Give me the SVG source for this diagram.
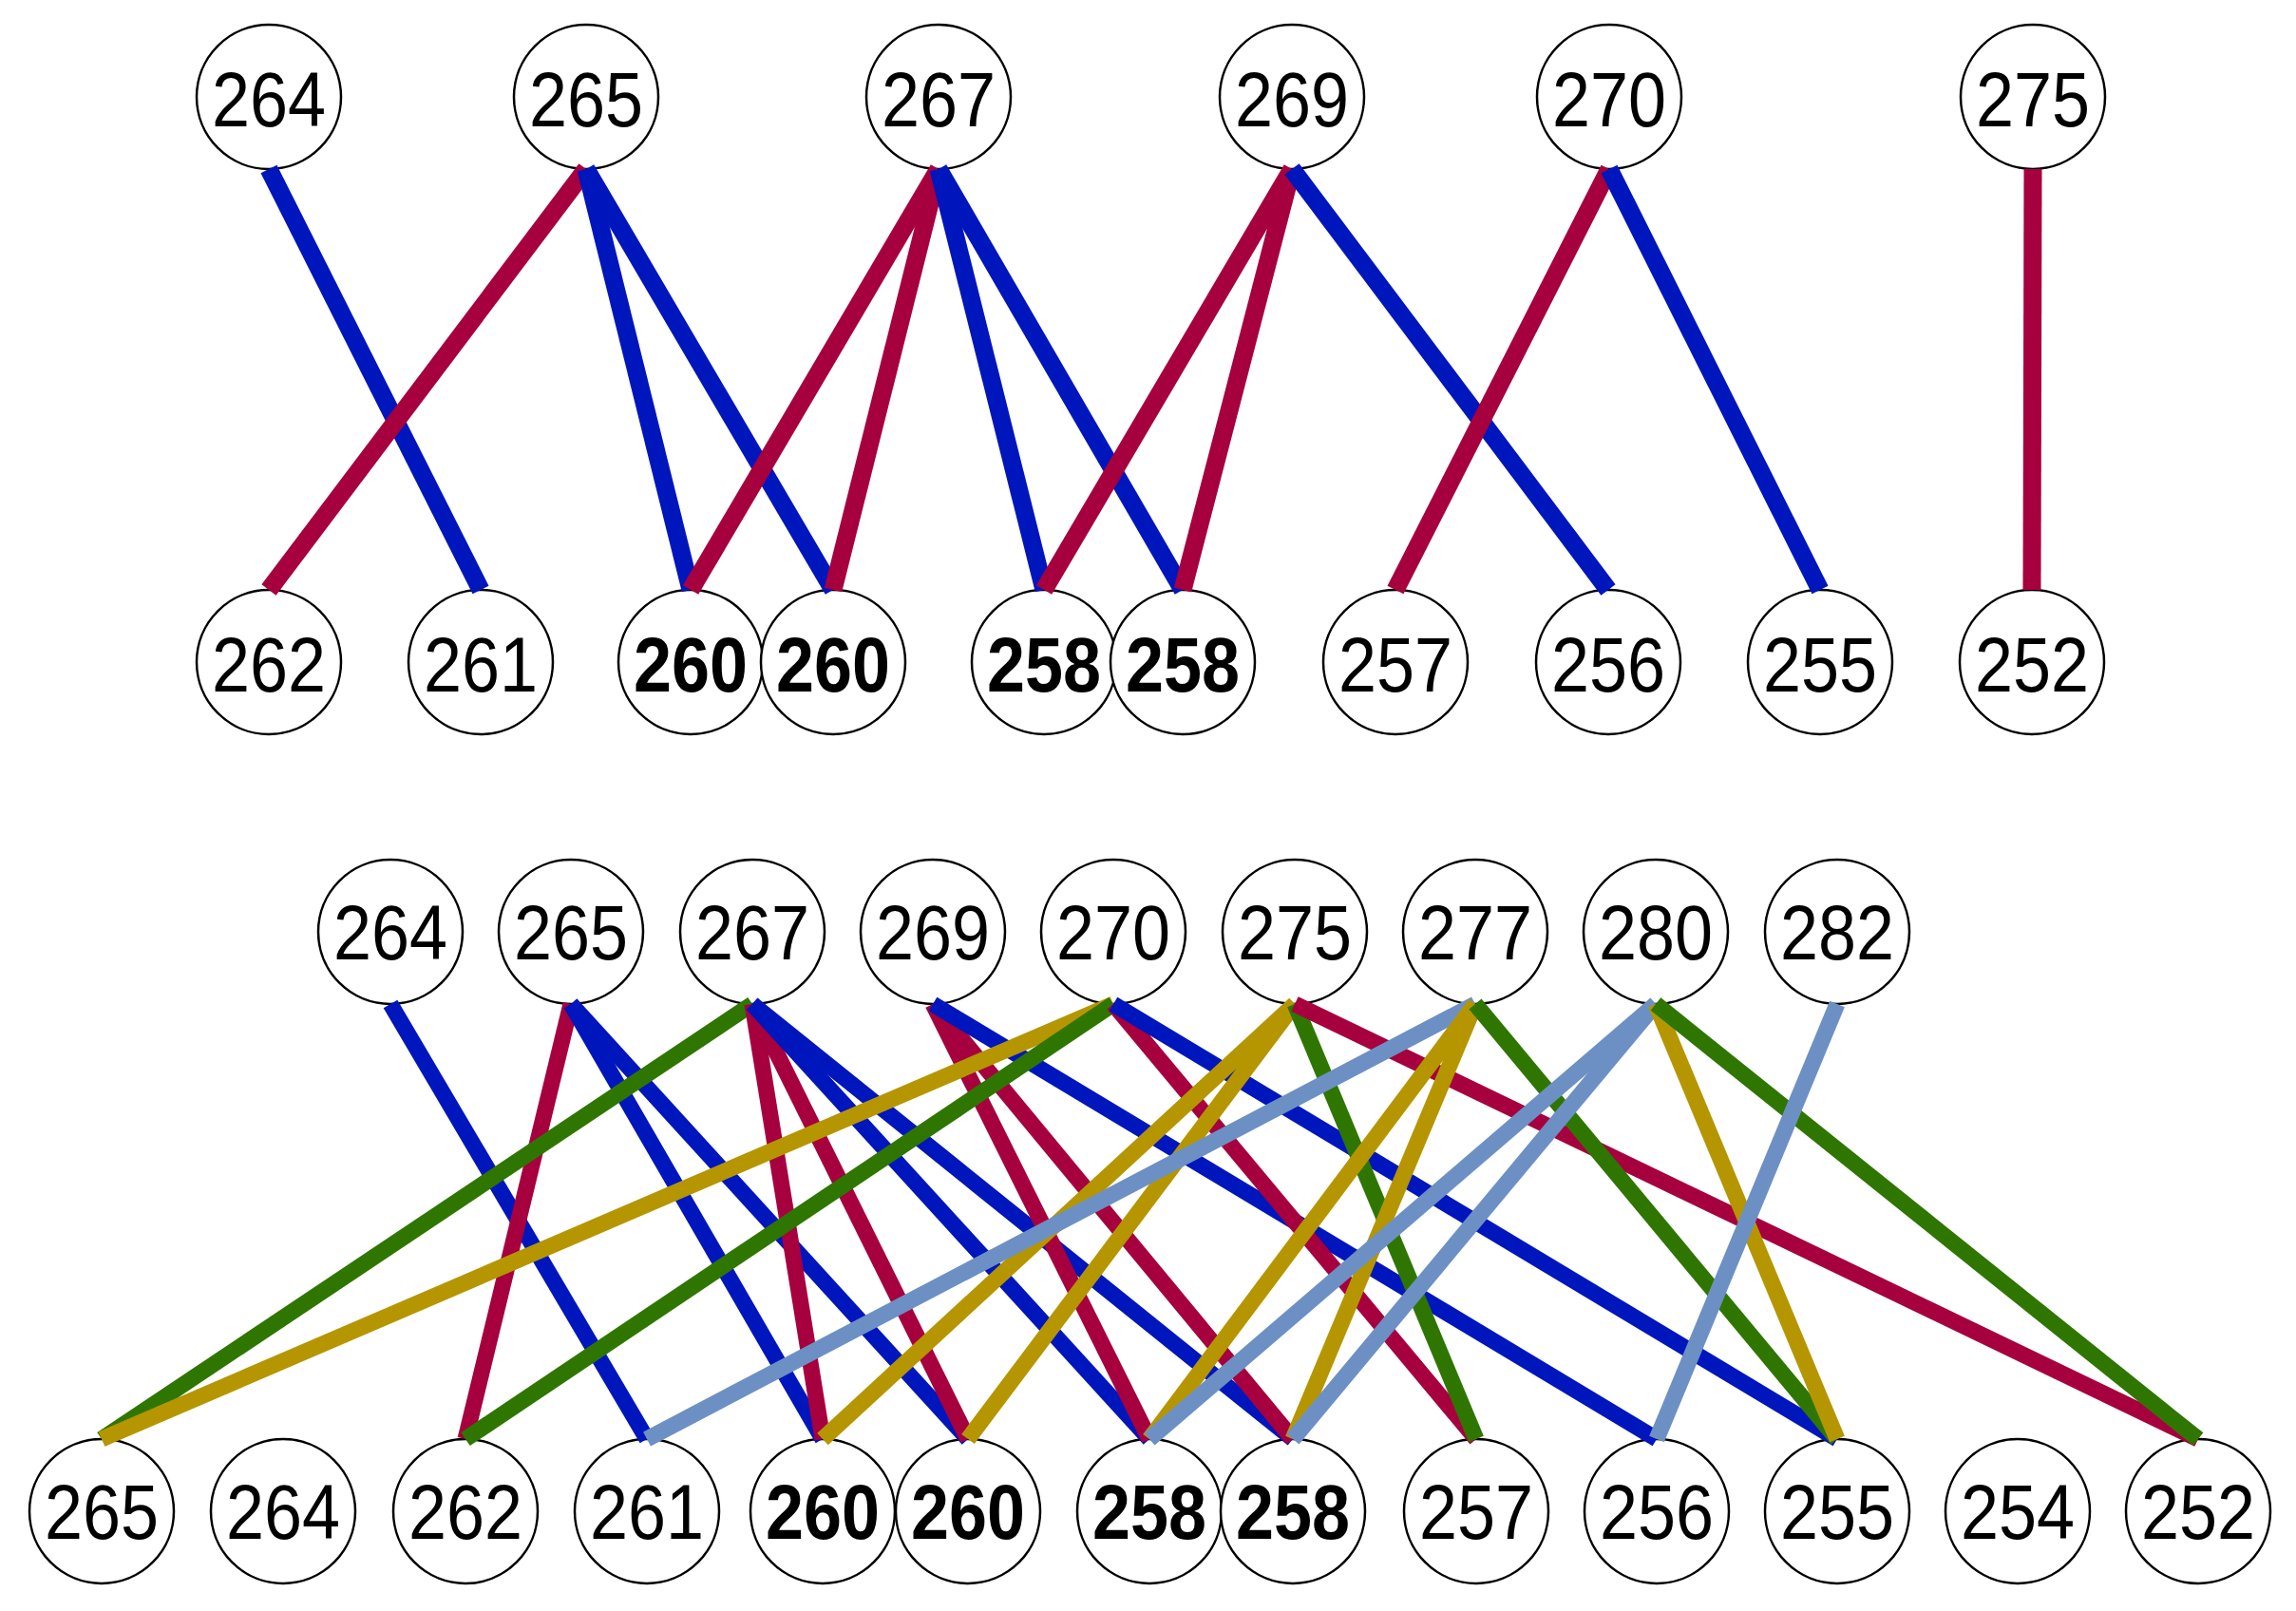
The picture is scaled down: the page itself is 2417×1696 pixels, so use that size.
<svg xmlns="http://www.w3.org/2000/svg" width="2417" height="1696" viewBox="0 0 2417 1696">
<style>
.n ellipse{fill:#fff;stroke:#000;stroke-width:2.5}
.n text{font-family:"Liberation Sans",Arial,sans-serif;font-size:82px;text-anchor:middle;fill:#000}
.n text.b{font-weight:bold}
.e line{stroke-linecap:butt}
.t line{stroke-width:19}
.u line{stroke-width:17}
.B{stroke:#0016bd}.R{stroke:#a6003f}.G{stroke:#2f7600}.Y{stroke:#b59600}.L{stroke:#6d90c4}
</style>
<rect width="2417" height="1696" fill="#fff"/>
<g id="nodes">
<g id="t264" class="n"><ellipse cx="283" cy="102" rx="76" ry="76"/><text x="283" y="133" textLength="120" lengthAdjust="spacingAndGlyphs">264</text></g>
<g id="t265" class="n"><ellipse cx="617" cy="102" rx="76" ry="76"/><text x="617" y="133" textLength="120" lengthAdjust="spacingAndGlyphs">265</text></g>
<g id="t267" class="n"><ellipse cx="988" cy="102" rx="76" ry="76"/><text x="988" y="133" textLength="120" lengthAdjust="spacingAndGlyphs">267</text></g>
<g id="t269" class="n"><ellipse cx="1360" cy="102" rx="76" ry="76"/><text x="1360" y="133" textLength="120" lengthAdjust="spacingAndGlyphs">269</text></g>
<g id="t270" class="n"><ellipse cx="1694" cy="102" rx="76" ry="76"/><text x="1694" y="133" textLength="120" lengthAdjust="spacingAndGlyphs">270</text></g>
<g id="t275" class="n"><ellipse cx="2140" cy="102" rx="76" ry="76"/><text x="2140" y="133" textLength="120" lengthAdjust="spacingAndGlyphs">275</text></g>
<g id="tb262" class="n"><ellipse cx="283" cy="697" rx="76" ry="76"/><text x="283" y="728" textLength="120" lengthAdjust="spacingAndGlyphs">262</text></g>
<g id="tb261" class="n"><ellipse cx="506" cy="697" rx="76" ry="76"/><text x="506" y="728" textLength="120" lengthAdjust="spacingAndGlyphs">261</text></g>
<g id="tb260a" class="n"><ellipse cx="727" cy="697" rx="76" ry="76"/><text class="b" x="727" y="728" textLength="120" lengthAdjust="spacingAndGlyphs">260</text></g>
<g id="tb260b" class="n"><ellipse cx="877" cy="697" rx="76" ry="76"/><text class="b" x="877" y="728" textLength="120" lengthAdjust="spacingAndGlyphs">260</text></g>
<g id="tb258a" class="n"><ellipse cx="1099" cy="697" rx="76" ry="76"/><text class="b" x="1099" y="728" textLength="120" lengthAdjust="spacingAndGlyphs">258</text></g>
<g id="tb258b" class="n"><ellipse cx="1245" cy="697" rx="76" ry="76"/><text class="b" x="1245" y="728" textLength="120" lengthAdjust="spacingAndGlyphs">258</text></g>
<g id="tb257" class="n"><ellipse cx="1469" cy="697" rx="76" ry="76"/><text x="1469" y="728" textLength="120" lengthAdjust="spacingAndGlyphs">257</text></g>
<g id="tb256" class="n"><ellipse cx="1693" cy="697" rx="76" ry="76"/><text x="1693" y="728" textLength="120" lengthAdjust="spacingAndGlyphs">256</text></g>
<g id="tb255" class="n"><ellipse cx="1916" cy="697" rx="76" ry="76"/><text x="1916" y="728" textLength="120" lengthAdjust="spacingAndGlyphs">255</text></g>
<g id="tb252" class="n"><ellipse cx="2139" cy="697" rx="76" ry="76"/><text x="2139" y="728" textLength="120" lengthAdjust="spacingAndGlyphs">252</text></g>
<g id="u264" class="n"><ellipse cx="411" cy="981" rx="76" ry="76"/><text x="411" y="1010" textLength="120" lengthAdjust="spacingAndGlyphs">264</text></g>
<g id="u265" class="n"><ellipse cx="601" cy="981" rx="76" ry="76"/><text x="601" y="1010" textLength="120" lengthAdjust="spacingAndGlyphs">265</text></g>
<g id="u267" class="n"><ellipse cx="792" cy="981" rx="76" ry="76"/><text x="792" y="1010" textLength="120" lengthAdjust="spacingAndGlyphs">267</text></g>
<g id="u269" class="n"><ellipse cx="982" cy="981" rx="76" ry="76"/><text x="982" y="1010" textLength="120" lengthAdjust="spacingAndGlyphs">269</text></g>
<g id="u270" class="n"><ellipse cx="1172" cy="981" rx="76" ry="76"/><text x="1172" y="1010" textLength="120" lengthAdjust="spacingAndGlyphs">270</text></g>
<g id="u275" class="n"><ellipse cx="1363" cy="981" rx="76" ry="76"/><text x="1363" y="1010" textLength="120" lengthAdjust="spacingAndGlyphs">275</text></g>
<g id="u277" class="n"><ellipse cx="1553" cy="981" rx="76" ry="76"/><text x="1553" y="1010" textLength="120" lengthAdjust="spacingAndGlyphs">277</text></g>
<g id="u280" class="n"><ellipse cx="1743" cy="981" rx="76" ry="76"/><text x="1743" y="1010" textLength="120" lengthAdjust="spacingAndGlyphs">280</text></g>
<g id="u282" class="n"><ellipse cx="1934" cy="981" rx="76" ry="76"/><text x="1934" y="1010" textLength="120" lengthAdjust="spacingAndGlyphs">282</text></g>
<g id="v265" class="n"><ellipse cx="107" cy="1591" rx="76" ry="76"/><text x="107" y="1620" textLength="120" lengthAdjust="spacingAndGlyphs">265</text></g>
<g id="v264" class="n"><ellipse cx="298" cy="1591" rx="76" ry="76"/><text x="298" y="1620" textLength="120" lengthAdjust="spacingAndGlyphs">264</text></g>
<g id="v262" class="n"><ellipse cx="490" cy="1591" rx="76" ry="76"/><text x="490" y="1620" textLength="120" lengthAdjust="spacingAndGlyphs">262</text></g>
<g id="v261" class="n"><ellipse cx="681" cy="1591" rx="76" ry="76"/><text x="681" y="1620" textLength="120" lengthAdjust="spacingAndGlyphs">261</text></g>
<g id="v260a" class="n"><ellipse cx="866" cy="1591" rx="76" ry="76"/><text class="b" x="866" y="1620" textLength="120" lengthAdjust="spacingAndGlyphs">260</text></g>
<g id="v260b" class="n"><ellipse cx="1019" cy="1591" rx="76" ry="76"/><text class="b" x="1019" y="1620" textLength="120" lengthAdjust="spacingAndGlyphs">260</text></g>
<g id="v258a" class="n"><ellipse cx="1210" cy="1591" rx="76" ry="76"/><text class="b" x="1210" y="1620" textLength="120" lengthAdjust="spacingAndGlyphs">258</text></g>
<g id="v258b" class="n"><ellipse cx="1361" cy="1591" rx="76" ry="76"/><text class="b" x="1361" y="1620" textLength="120" lengthAdjust="spacingAndGlyphs">258</text></g>
<g id="v257" class="n"><ellipse cx="1554" cy="1591" rx="76" ry="76"/><text x="1554" y="1620" textLength="120" lengthAdjust="spacingAndGlyphs">257</text></g>
<g id="v256" class="n"><ellipse cx="1744" cy="1591" rx="76" ry="76"/><text x="1744" y="1620" textLength="120" lengthAdjust="spacingAndGlyphs">256</text></g>
<g id="v255" class="n"><ellipse cx="1934" cy="1591" rx="76" ry="76"/><text x="1934" y="1620" textLength="120" lengthAdjust="spacingAndGlyphs">255</text></g>
<g id="v254" class="n"><ellipse cx="2124" cy="1591" rx="76" ry="76"/><text x="2124" y="1620" textLength="120" lengthAdjust="spacingAndGlyphs">254</text></g>
<g id="v252" class="n"><ellipse cx="2314" cy="1591" rx="76" ry="76"/><text x="2314" y="1620" textLength="120" lengthAdjust="spacingAndGlyphs">252</text></g>
</g>
<g id="connectors" class="e">
<g class="t">
<line class="B" x1="283" y1="178" x2="506" y2="621"/>
<line class="R" x1="617" y1="178" x2="283" y2="621"/>
<line class="B" x1="617" y1="178" x2="727" y2="621"/>
<line class="B" x1="617" y1="178" x2="877" y2="621"/>
<line class="R" x1="988" y1="178" x2="727" y2="621"/>
<line class="R" x1="988" y1="178" x2="877" y2="621"/>
<line class="B" x1="988" y1="178" x2="1099" y2="621"/>
<line class="B" x1="988" y1="178" x2="1245" y2="621"/>
<line class="R" x1="1360" y1="178" x2="1099" y2="621"/>
<line class="R" x1="1360" y1="178" x2="1245" y2="621"/>
<line class="B" x1="1360" y1="178" x2="1693" y2="621"/>
<line class="R" x1="1694" y1="178" x2="1469" y2="621"/>
<line class="B" x1="1694" y1="178" x2="1916" y2="621"/>
<line class="R" x1="2140" y1="178" x2="2139" y2="621"/>
</g>
<g class="u">
<line class="B" x1="411" y1="1057" x2="681" y2="1515"/>
<line class="R" x1="601" y1="1057" x2="490" y2="1515"/>
<line class="B" x1="601" y1="1057" x2="866" y2="1515"/>
<line class="B" x1="601" y1="1057" x2="1019" y2="1515"/>
<line class="G" x1="792" y1="1057" x2="107" y2="1515"/>
<line class="R" x1="792" y1="1057" x2="866" y2="1515"/>
<line class="R" x1="792" y1="1057" x2="1019" y2="1515"/>
<line class="B" x1="792" y1="1057" x2="1210" y2="1515"/>
<line class="B" x1="792" y1="1057" x2="1361" y2="1515"/>
<line class="R" x1="982" y1="1057" x2="1210" y2="1515"/>
<line class="R" x1="982" y1="1057" x2="1361" y2="1515"/>
<line class="B" x1="982" y1="1057" x2="1744" y2="1515"/>
<line class="Y" x1="1172" y1="1057" x2="107" y2="1515"/>
<line class="G" x1="1172" y1="1057" x2="490" y2="1515"/>
<line class="R" x1="1172" y1="1057" x2="1554" y2="1515"/>
<line class="B" x1="1172" y1="1057" x2="1934" y2="1515"/>
<line class="Y" x1="1363" y1="1057" x2="866" y2="1515"/>
<line class="Y" x1="1363" y1="1057" x2="1019" y2="1515"/>
<line class="G" x1="1363" y1="1057" x2="1554" y2="1515"/>
<line class="R" x1="1363" y1="1057" x2="2314" y2="1515"/>
<line class="L" x1="1553" y1="1057" x2="681" y2="1515"/>
<line class="Y" x1="1553" y1="1057" x2="1210" y2="1515"/>
<line class="Y" x1="1553" y1="1057" x2="1361" y2="1515"/>
<line class="G" x1="1553" y1="1057" x2="1934" y2="1515"/>
<line class="L" x1="1743" y1="1057" x2="1210" y2="1515"/>
<line class="L" x1="1743" y1="1057" x2="1361" y2="1515"/>
<line class="Y" x1="1743" y1="1057" x2="1934" y2="1515"/>
<line class="G" x1="1743" y1="1057" x2="2314" y2="1515"/>
<line class="L" x1="1934" y1="1057" x2="1744" y2="1515"/>
</g>
</g>
</svg>
